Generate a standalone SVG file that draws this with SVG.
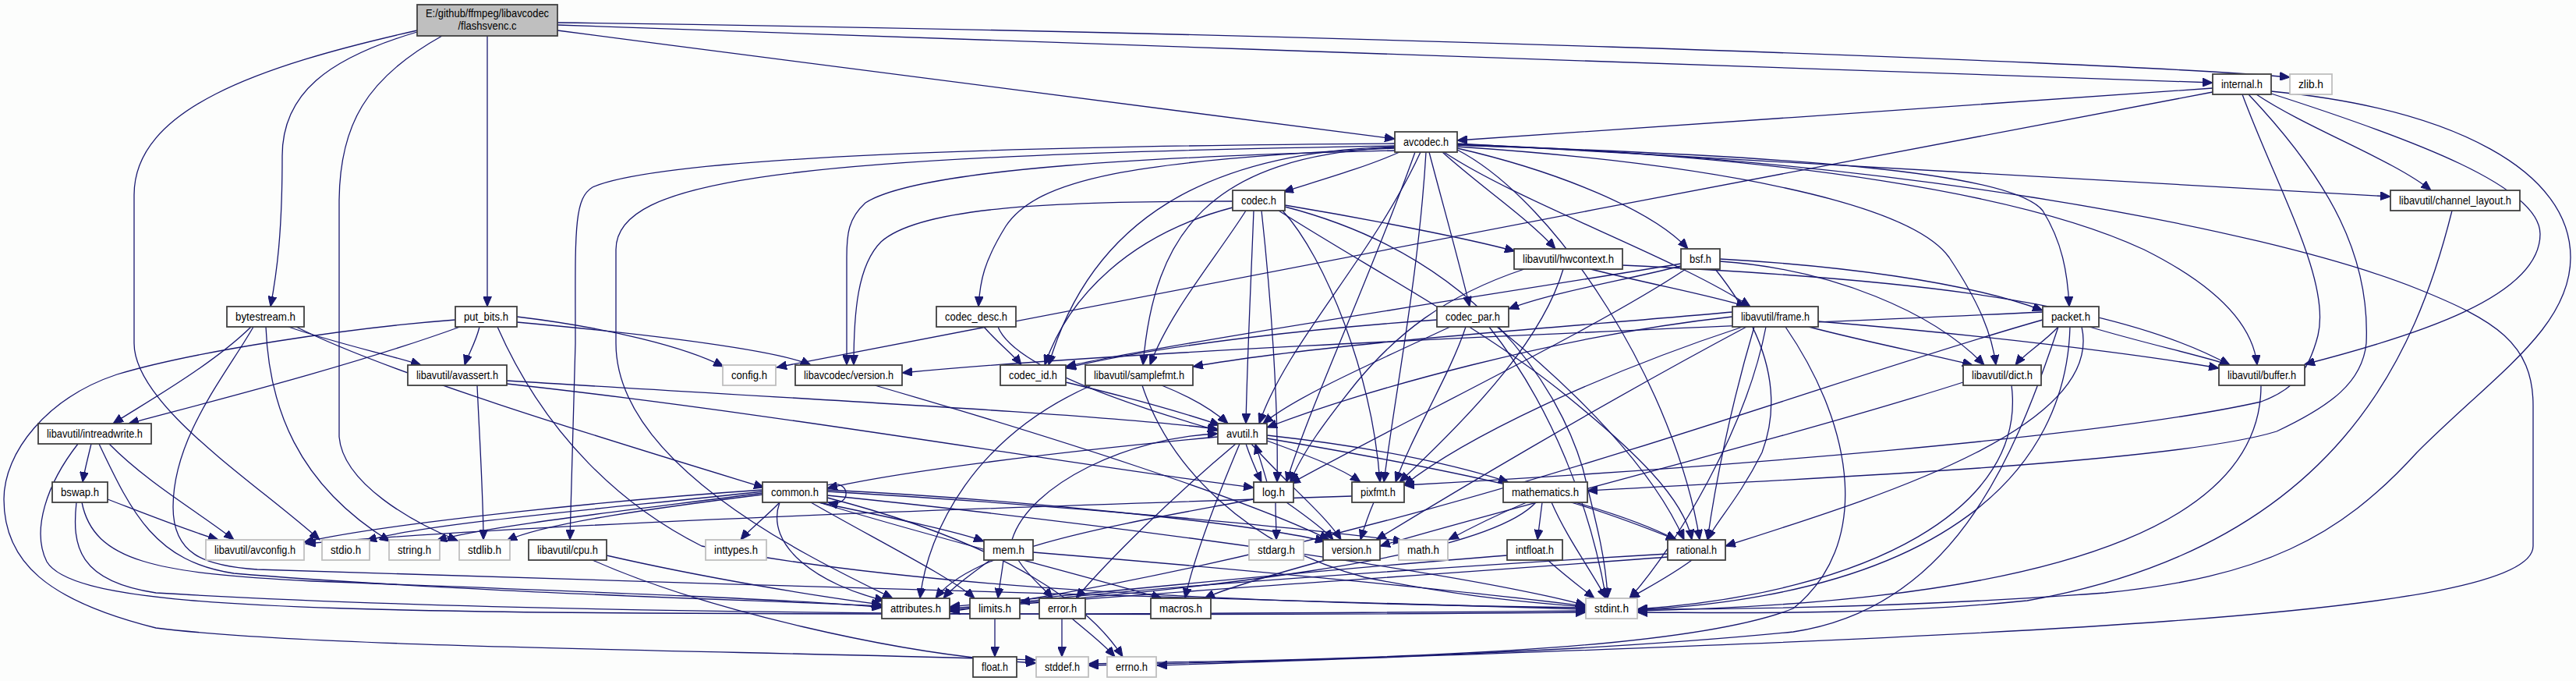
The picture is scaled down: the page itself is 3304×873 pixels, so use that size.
<svg xmlns="http://www.w3.org/2000/svg" width="3304" height="873" viewBox="0 0 3304 873">
<style>
.n rect{fill:#ffffff;stroke:#404040;stroke-width:1.8}
.g rect{fill:#ffffff;stroke:#bfbfbf;stroke-width:1.8}
.m rect{fill:#bfbfbf;stroke:#404040;stroke-width:1.8}
text{font-family:"Liberation Sans",Arial,sans-serif;font-size:15px;fill:#000;text-anchor:middle}
.e path{fill:none;stroke:#191970;stroke-width:1.3;marker-end:url(#ah)}
</style>
<defs>
<marker id="ah" markerUnits="userSpaceOnUse" markerWidth="14" markerHeight="11" refX="13" refY="5.5" orient="auto"><path d="M0,0 L13,5.5 L0,11 z" fill="#191970" stroke="#191970" stroke-width="1"/></marker>
</defs>
<rect x="0" y="0" width="3304" height="873" fill="#fcfdfc"/>
<g id="connectors" class="e">
<path d="M715,29 C1600,40 2700,78 2937,99"/>
<path d="M715,32 C1400,56 2200,84 2838,106"/>
<path d="M715,39 C1100,89 1500,142 1789,178"/>
<path d="M625,46 C625,150 625,300 625,393"/>
<path d="M535,41 C420,75 362,120 362,200 C362,300 355,350 347,393"/>
<path d="M535,39 C330,85 172,140 172,250 L172,440 C172,520 330,620 410,692"/>
<path d="M567,46 C470,100 435,160 435,260 L435,560 C440,620 530,670 587,693"/>
<path d="M2838,113 C2500,136 2200,158 1869,180"/>
<path d="M2838,118 C2300,220 1300,410 996,471"/>
<path d="M2894,121 C2960,165 3070,205 3118,244"/>
<path d="M2913,120 C3100,180 3258,240 3258,300 C3258,380 3100,430 2956,467"/>
<path d="M2913,117 C3150,140 3297,220 3297,330 C3297,420 3200,480 3100,580 C3000,690 2900,740 2700,760 C2500,775 2300,781 2100,781"/>
<path d="M2876,121 C2920,240 2990,360 2973,430 C2960,480 2940,500 2900,515 C2700,560 2200,600 1801,622"/>
<path d="M2884,121 C2990,233 3040,330 3035,440 C3030,490 2990,520 2920,553 C2800,590 2400,610 2036,629"/>
<path d="M1795,195 C1750,215 1690,232 1646,246"/>
<path d="M1789,190 C1450,205 1330,230 1290,290 C1262,335 1257,360 1255,393"/>
<path d="M1789,193 C1500,200 1180,215 1110,260 C1088,280 1086,300 1086,330 L1086,468"/>
<path d="M1789,184 C1200,188 840,205 760,240 C735,255 738,300 738,440 L731,692"/>
<path d="M1789,187 C1000,200 790,230 790,320 L790,440 C790,600 1050,720 1145,767"/>
<path d="M1822,195 C1760,330 1650,440 1615,543"/>
<path d="M1815,195 C1760,350 1680,520 1650,618"/>
<path d="M1789,189 C1550,200 1480,300 1466,468"/>
<path d="M1789,188 C1550,195 1400,280 1345,468"/>
<path d="M1850,195 C1900,240 1960,280 1995,319"/>
<path d="M1869,190 C2000,220 2120,270 2165,319"/>
<path d="M1852,195 C1950,260 2150,330 2245,393"/>
<path d="M1833,195 C1850,260 1870,330 1885,393"/>
<path d="M1869,188 C2200,210 2450,260 2500,330 C2540,390 2555,430 2560,468"/>
<path d="M1869,186 C2300,200 2580,220 2620,270 C2645,310 2652,350 2654,393"/>
<path d="M1869,185 C2300,200 2600,250 2750,320 C2850,370 2890,420 2895,468"/>
<path d="M1869,184 C2300,206 2700,228 3066,252"/>
<path d="M1869,192 C2000,260 2150,500 2180,692"/>
<path d="M1829,195 C1820,350 1790,500 1775,618"/>
<path d="M1869,186 C2400,200 2900,290 3100,370 C3200,410 3249,440 3249,520 L3249,700 C3249,790 2600,815 1484,853"/>
<path d="M1648,265 C1900,330 2000,500 2030,600 C2050,680 2060,720 2062,767"/>
<path d="M1608,270 C1605,350 1600,450 1598,543"/>
<path d="M1648,263 C1750,280 1880,305 1943,322"/>
<path d="M1618,270 C1630,380 1640,520 1638,618"/>
<path d="M1645,270 C1700,330 1760,480 1770,618"/>
<path d="M1640,270 C1750,340 1900,420 2000,500 C2100,580 2160,640 2170,692"/>
<path d="M1598,270 C1560,330 1500,400 1475,468"/>
<path d="M1581,266 C1450,300 1370,380 1340,468"/>
<path d="M1581,258 C1350,258 1180,265 1130,310 C1100,340 1095,400 1095,468"/>
<path d="M2081,340 C2400,355 2700,380 2860,468"/>
<path d="M2040,345 C2120,365 2200,380 2240,393"/>
<path d="M1955,345 C1850,380 1790,430 1740,490 C1700,540 1670,580 1655,618"/>
<path d="M2005,345 C1980,430 1900,520 1795,618"/>
<path d="M2206,335 C2350,345 2480,400 2545,468"/>
<path d="M2162,345 C2050,420 1800,540 1655,620"/>
<path d="M2200,345 C2260,420 2290,500 2260,580 C2230,640 2200,670 2190,692"/>
<path d="M2156,338 C1900,380 1500,440 1367,470"/>
<path d="M2156,341 C2080,360 1990,375 1935,396"/>
<path d="M2206,332 C2350,340 2520,360 2620,398"/>
<path d="M325,419 C290,480 222,560 222,650 C222,710 260,725 330,730 C900,750 1600,765 2034,781"/>
<path d="M341,419 C345,520 380,620 500,694"/>
<path d="M370,419 C430,440 500,455 540,468"/>
<path d="M380,419 C500,480 800,570 980,625"/>
<path d="M322,419 C270,470 180,520 145,543"/>
<path d="M638,419 C700,560 800,650 900,700 C1200,760 1700,775 2034,779"/>
<path d="M584,410 C450,420 250,450 150,480 C60,510 5,580 5,640 C5,720 60,770 200,805 C400,830 900,833 1328,846"/>
<path d="M663,406 C780,420 880,445 928,470"/>
<path d="M590,419 C450,470 250,520 165,543"/>
<path d="M615,419 C610,440 600,455 596,468"/>
<path d="M663,413 C850,430 1000,450 1040,468"/>
<path d="M1280,419 C1300,470 1450,520 1562,552"/>
<path d="M1262,419 C1280,440 1300,455 1310,468"/>
<path d="M1910,419 C1990,520 2040,650 2060,767"/>
<path d="M1860,419 C1750,470 1660,510 1620,543"/>
<path d="M1920,419 C2020,500 2120,600 2160,692"/>
<path d="M1880,419 C1860,480 1810,560 1790,618"/>
<path d="M1843,410 C1700,420 1500,440 1367,472"/>
<path d="M2290,419 C2380,550 2400,700 2300,780 C2150,840 1700,845 1396,851"/>
<path d="M2265,419 C2240,550 2150,700 2090,767"/>
<path d="M2222,406 C2000,430 1750,500 1625,548"/>
<path d="M2332,412 C2550,430 2750,455 2846,472"/>
<path d="M2320,419 C2400,440 2480,455 2530,468"/>
<path d="M2250,419 C2220,520 2200,620 2190,692"/>
<path d="M2222,400 C2000,420 1700,440 1530,470"/>
<path d="M2235,419 C2050,480 1880,560 1801,622"/>
<path d="M2240,419 C2050,520 1850,640 1765,692"/>
<path d="M2640,419 C2580,600 2500,780 2300,810 C2000,840 1600,848 1396,853"/>
<path d="M2655,419 C2650,600 2500,760 2100,782"/>
<path d="M2620,410 C2300,500 1800,700 1218,784"/>
<path d="M2680,419 C2750,440 2820,455 2860,468"/>
<path d="M2640,419 C2620,440 2595,455 2585,468"/>
<path d="M2670,419 C2700,550 2400,640 2213,700"/>
<path d="M2620,400 C2200,420 1500,445 1157,478"/>
<path d="M1122,494 C1350,560 1600,640 1705,692"/>
<path d="M1367,490 C1450,510 1520,530 1565,545"/>
<path d="M1465,494 C1500,600 1600,700 1750,740 C1900,770 2000,775 2034,778"/>
<path d="M1490,494 C1530,510 1555,525 1575,543"/>
<path d="M1400,494 C1250,560 1190,680 1180,767"/>
<path d="M612,494 C615,560 620,640 620,692"/>
<path d="M650,488 C1000,510 1400,530 1562,550"/>
<path d="M650,492 C1000,530 1400,600 1608,625"/>
<path d="M2580,494 C2600,650 2400,760 2100,781"/>
<path d="M2518,490 C2300,560 1900,660 1770,700"/>
<path d="M2900,494 C2900,650 2700,770 2100,783"/>
<path d="M3145,270 C3100,450 3000,700 2600,770 C2400,790 2200,785 2100,785"/>
<path d="M100,569 C60,620 40,680 60,720 C90,770 300,780 700,785 C1300,790 1800,785 2034,783"/>
<path d="M140,569 C190,620 260,660 300,692"/>
<path d="M127,569 C170,660 200,720 300,735 C600,760 1000,770 1131,777"/>
<path d="M117,569 C112,590 108,605 106,618"/>
<path d="M98,644 C92,700 100,745 200,760 C700,790 1500,790 2034,785"/>
<path d="M138,640 C190,660 240,680 280,692"/>
<path d="M105,644 C120,720 200,735 400,745 C800,760 1050,770 1131,779"/>
<path d="M1562,560 C1350,580 1150,605 1061,626"/>
<path d="M1585,569 C1500,640 1420,720 1380,767"/>
<path d="M1625,562 C1850,600 2050,640 2150,692"/>
<path d="M1605,569 C1650,620 1700,660 1720,692"/>
<path d="M1590,569 C1560,640 1530,720 1520,767"/>
<path d="M1625,558 C1780,575 1880,600 1935,618"/>
<path d="M1598,569 C1605,590 1612,605 1618,618"/>
<path d="M1625,565 C1680,585 1720,600 1745,618"/>
<path d="M1636,644 C1636,660 1637,675 1637,692"/>
<path d="M1625,618 C1620,600 1615,585 1610,569"/>
<path d="M1608,640 C1450,670 1250,700 1200,767"/>
<path d="M1650,644 C1680,665 1700,680 1710,692"/>
<path d="M1734,636 C1300,650 700,670 392,697"/>
<path d="M1762,644 C1755,660 1750,675 1745,692"/>
<path d="M1990,644 C2010,690 2040,730 2060,767"/>
<path d="M1958,644 C1920,660 1880,680 1858,692"/>
<path d="M1970,644 C1900,720 1500,760 1218,780"/>
<path d="M2015,644 C2070,660 2120,680 2150,692"/>
<path d="M1978,644 C1976,660 1974,675 1972,692"/>
<path d="M760,718 C900,780 1150,840 1329,850"/>
<path d="M778,712 C900,740 1050,765 1131,775"/>
<path d="M1061,638 C1300,700 1400,780 1440,842"/>
<path d="M1000,644 C985,660 960,680 950,692"/>
<path d="M1040,644 C1120,690 1220,740 1250,767"/>
<path d="M1061,630 C1400,650 1700,680 1800,694"/>
<path d="M1061,635 C1500,680 1900,740 2034,776"/>
<path d="M978,630 C800,650 550,670 470,693"/>
<path d="M978,634 C850,650 700,670 650,693"/>
<path d="M978,632 C800,655 620,675 560,693"/>
<path d="M1000,644 C980,700 1050,750 1135,770"/>
<path d="M1050,644 C1200,690 1400,740 1490,767"/>
<path d="M1061,628 C1300,640 1600,670 1700,694"/>
<path d="M978,628 C800,640 500,670 390,695"/>
<path d="M1050,644 C1150,665 1230,682 1262,694"/>
<path d="M1061,622 C1092,612 1094,652 1062,644"/>
<path d="M1287,718 C1285,735 1282,750 1280,767"/>
<path d="M1325,708 C1600,730 1900,760 2034,777"/>
<path d="M1270,718 C1240,740 1220,755 1210,767"/>
<path d="M1306,718 C1320,740 1340,755 1350,767"/>
<path d="M1298,692 C1320,620 1450,560 1562,556"/>
<path d="M1700,718 C1620,740 1570,755 1545,767"/>
<path d="M1985,718 C2010,740 2030,755 2045,767"/>
<path d="M1933,712 C1700,730 1400,760 1218,778"/>
<path d="M2170,718 C2140,740 2110,755 2090,767"/>
<path d="M2139,710 C1800,730 1450,755 1308,772"/>
<path d="M2139,714 C1800,740 1400,765 1218,782"/>
<path d="M1276,793 C1276,810 1276,825 1276,842"/>
<path d="M1375,793 C1395,810 1415,825 1430,842"/>
<path d="M1362,793 C1362,810 1362,825 1362,842"/>
</g>
<g id="node-main" class="m"><rect x="535" y="6" width="180" height="40"/><text x="625" y="22" textLength="158" lengthAdjust="spacingAndGlyphs">E:/github/ffmpeg/libavcodec</text><text x="625" y="38" textLength="75" lengthAdjust="spacingAndGlyphs">/flashsvenc.c</text></g>
<g id="node-internal" class="n"><rect x="2838" y="95" width="75" height="26"/><text x="2875.5" y="113" textLength="53" lengthAdjust="spacingAndGlyphs">internal.h</text></g>
<g id="node-zlib" class="g"><rect x="2937" y="95" width="54" height="26"/><text x="2964" y="113" textLength="32" lengthAdjust="spacingAndGlyphs">zlib.h</text></g>
<g id="node-avcodec" class="n"><rect x="1789" y="169" width="80" height="26"/><text x="1829" y="187" textLength="58" lengthAdjust="spacingAndGlyphs">avcodec.h</text></g>
<g id="node-codec" class="n"><rect x="1581" y="244" width="67" height="26"/><text x="1614.5" y="262" textLength="45" lengthAdjust="spacingAndGlyphs">codec.h</text></g>
<g id="node-channel_layout" class="n"><rect x="3066" y="244" width="166" height="26"/><text x="3149" y="262" textLength="144" lengthAdjust="spacingAndGlyphs">libavutil/channel_layout.h</text></g>
<g id="node-hwcontext" class="n"><rect x="1942" y="319" width="139" height="26"/><text x="2011.5" y="337" textLength="117" lengthAdjust="spacingAndGlyphs">libavutil/hwcontext.h</text></g>
<g id="node-bsf" class="n"><rect x="2156" y="319" width="50" height="26"/><text x="2181" y="337" textLength="28" lengthAdjust="spacingAndGlyphs">bsf.h</text></g>
<g id="node-bytestream" class="n"><rect x="291" y="393" width="99" height="26"/><text x="340.5" y="411" textLength="77" lengthAdjust="spacingAndGlyphs">bytestream.h</text></g>
<g id="node-put_bits" class="n"><rect x="584" y="393" width="79" height="26"/><text x="623.5" y="411" textLength="57" lengthAdjust="spacingAndGlyphs">put_bits.h</text></g>
<g id="node-codec_desc" class="n"><rect x="1201" y="393" width="102" height="26"/><text x="1252" y="411" textLength="80" lengthAdjust="spacingAndGlyphs">codec_desc.h</text></g>
<g id="node-codec_par" class="n"><rect x="1843" y="393" width="92" height="26"/><text x="1889" y="411" textLength="70" lengthAdjust="spacingAndGlyphs">codec_par.h</text></g>
<g id="node-frame" class="n"><rect x="2222" y="393" width="110" height="26"/><text x="2277" y="411" textLength="88" lengthAdjust="spacingAndGlyphs">libavutil/frame.h</text></g>
<g id="node-packet" class="n"><rect x="2620" y="393" width="72" height="26"/><text x="2656" y="411" textLength="50" lengthAdjust="spacingAndGlyphs">packet.h</text></g>
<g id="node-config" class="g"><rect x="927" y="468" width="68" height="26"/><text x="961" y="486" textLength="46" lengthAdjust="spacingAndGlyphs">config.h</text></g>
<g id="node-lavc_version" class="n"><rect x="1020" y="468" width="137" height="26"/><text x="1088.5" y="486" textLength="115" lengthAdjust="spacingAndGlyphs">libavcodec/version.h</text></g>
<g id="node-codec_id" class="n"><rect x="1283" y="468" width="84" height="26"/><text x="1325" y="486" textLength="62" lengthAdjust="spacingAndGlyphs">codec_id.h</text></g>
<g id="node-samplefmt" class="n"><rect x="1392" y="468" width="138" height="26"/><text x="1461" y="486" textLength="116" lengthAdjust="spacingAndGlyphs">libavutil/samplefmt.h</text></g>
<g id="node-avassert" class="n"><rect x="523" y="468" width="127" height="26"/><text x="586.5" y="486" textLength="105" lengthAdjust="spacingAndGlyphs">libavutil/avassert.h</text></g>
<g id="node-dict" class="n"><rect x="2518" y="468" width="100" height="26"/><text x="2568" y="486" textLength="78" lengthAdjust="spacingAndGlyphs">libavutil/dict.h</text></g>
<g id="node-buffer" class="n"><rect x="2846" y="468" width="110" height="26"/><text x="2901" y="486" textLength="88" lengthAdjust="spacingAndGlyphs">libavutil/buffer.h</text></g>
<g id="node-intreadwrite" class="n"><rect x="49" y="543" width="145" height="26"/><text x="121.5" y="561" textLength="123" lengthAdjust="spacingAndGlyphs">libavutil/intreadwrite.h</text></g>
<g id="node-avutil" class="n"><rect x="1562" y="543" width="63" height="26"/><text x="1593.5" y="561" textLength="41" lengthAdjust="spacingAndGlyphs">avutil.h</text></g>
<g id="node-bswap" class="n"><rect x="67" y="618" width="71" height="26"/><text x="102.5" y="636" textLength="49" lengthAdjust="spacingAndGlyphs">bswap.h</text></g>
<g id="node-common" class="n"><rect x="978" y="618" width="83" height="26"/><text x="1019.5" y="636" textLength="61" lengthAdjust="spacingAndGlyphs">common.h</text></g>
<g id="node-log" class="n"><rect x="1608" y="618" width="51" height="26"/><text x="1633.5" y="636" textLength="29" lengthAdjust="spacingAndGlyphs">log.h</text></g>
<g id="node-pixfmt" class="n"><rect x="1734" y="618" width="67" height="26"/><text x="1767.5" y="636" textLength="45" lengthAdjust="spacingAndGlyphs">pixfmt.h</text></g>
<g id="node-mathematics" class="n"><rect x="1928" y="618" width="108" height="26"/><text x="1982" y="636" textLength="86" lengthAdjust="spacingAndGlyphs">mathematics.h</text></g>
<g id="node-avconfig" class="g"><rect x="264" y="692" width="126" height="26"/><text x="327" y="710" textLength="104" lengthAdjust="spacingAndGlyphs">libavutil/avconfig.h</text></g>
<g id="node-stdio" class="g"><rect x="413" y="692" width="61" height="26"/><text x="443.5" y="710" textLength="39" lengthAdjust="spacingAndGlyphs">stdio.h</text></g>
<g id="node-string" class="g"><rect x="499" y="692" width="65" height="26"/><text x="531.5" y="710" textLength="43" lengthAdjust="spacingAndGlyphs">string.h</text></g>
<g id="node-stdlib" class="g"><rect x="589" y="692" width="65" height="26"/><text x="621.5" y="710" textLength="43" lengthAdjust="spacingAndGlyphs">stdlib.h</text></g>
<g id="node-cpu" class="n"><rect x="678" y="692" width="100" height="26"/><text x="728" y="710" textLength="78" lengthAdjust="spacingAndGlyphs">libavutil/cpu.h</text></g>
<g id="node-inttypes" class="g"><rect x="905" y="692" width="78" height="26"/><text x="944" y="710" textLength="56" lengthAdjust="spacingAndGlyphs">inttypes.h</text></g>
<g id="node-mem" class="n"><rect x="1262" y="692" width="63" height="26"/><text x="1293.5" y="710" textLength="41" lengthAdjust="spacingAndGlyphs">mem.h</text></g>
<g id="node-stdarg" class="g"><rect x="1602" y="692" width="70" height="26"/><text x="1637" y="710" textLength="48" lengthAdjust="spacingAndGlyphs">stdarg.h</text></g>
<g id="node-version" class="n"><rect x="1697" y="692" width="73" height="26"/><text x="1733.5" y="710" textLength="51" lengthAdjust="spacingAndGlyphs">version.h</text></g>
<g id="node-math" class="g"><rect x="1794" y="692" width="63" height="26"/><text x="1825.5" y="710" textLength="41" lengthAdjust="spacingAndGlyphs">math.h</text></g>
<g id="node-intfloat" class="n"><rect x="1933" y="692" width="71" height="26"/><text x="1968.5" y="710" textLength="49" lengthAdjust="spacingAndGlyphs">intfloat.h</text></g>
<g id="node-rational" class="n"><rect x="2139" y="692" width="74" height="26"/><text x="2176" y="710" textLength="52" lengthAdjust="spacingAndGlyphs">rational.h</text></g>
<g id="node-attributes" class="n"><rect x="1131" y="767" width="87" height="26"/><text x="1174.5" y="785" textLength="65" lengthAdjust="spacingAndGlyphs">attributes.h</text></g>
<g id="node-limits" class="n"><rect x="1244" y="767" width="64" height="26"/><text x="1276" y="785" textLength="42" lengthAdjust="spacingAndGlyphs">limits.h</text></g>
<g id="node-error" class="n"><rect x="1333" y="767" width="59" height="26"/><text x="1362.5" y="785" textLength="37" lengthAdjust="spacingAndGlyphs">error.h</text></g>
<g id="node-macros" class="n"><rect x="1476" y="767" width="77" height="26"/><text x="1514.5" y="785" textLength="55" lengthAdjust="spacingAndGlyphs">macros.h</text></g>
<g id="node-stdint" class="g"><rect x="2034" y="767" width="66" height="26"/><text x="2067" y="785" textLength="44" lengthAdjust="spacingAndGlyphs">stdint.h</text></g>
<g id="node-float" class="n"><rect x="1248" y="842" width="56" height="26"/><text x="1276" y="860" textLength="34" lengthAdjust="spacingAndGlyphs">float.h</text></g>
<g id="node-stddef" class="g"><rect x="1329" y="842" width="67" height="26"/><text x="1362.5" y="860" textLength="45" lengthAdjust="spacingAndGlyphs">stddef.h</text></g>
<g id="node-errno" class="g"><rect x="1420" y="842" width="63" height="26"/><text x="1451.5" y="860" textLength="41" lengthAdjust="spacingAndGlyphs">errno.h</text></g>
</svg>
